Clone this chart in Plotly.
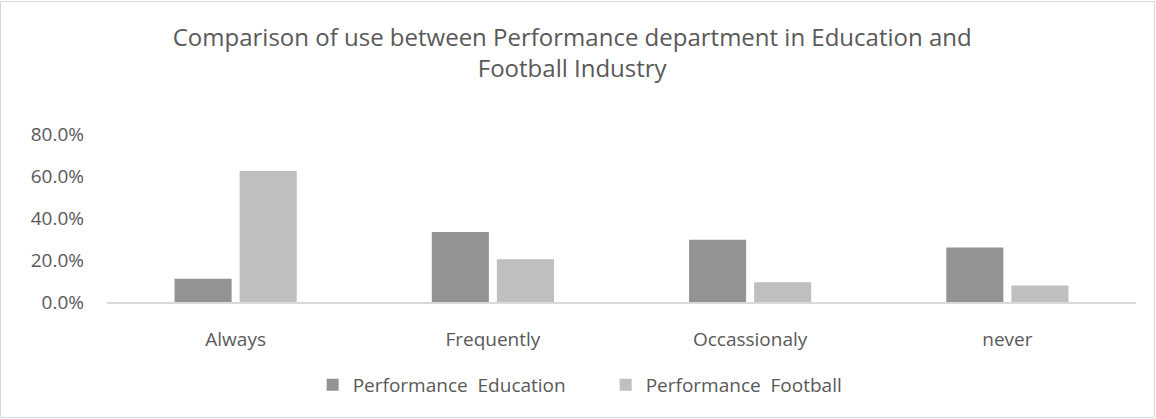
import plotly.graph_objects as go

categories = ["Always", "Frequently", "Occassionaly", "never"]
education = [0.111, 0.333, 0.297, 0.259]
football = [0.624, 0.203, 0.094, 0.079]
series_names = ["Performance\u00a0 Education", "Performance\u00a0 Football"]
y_ticks = [0.0, 0.2, 0.4, 0.6, 0.8]

W, H = 1156, 419
ml, mr, mt, mb = 107, 20, 134, 117
pw, ph = W - ml - mr, H - mt - mb

font_family = "Open Sans, Liberation Sans, sans-serif"
txt = "#595959"

fig = go.Figure()
fig.add_trace(go.Bar(x=categories, y=education, name=series_names[0],
                     marker=dict(color="#939393", line=dict(width=0))))
fig.add_trace(go.Bar(x=categories, y=football, name=series_names[1],
                     marker=dict(color="#bfbfbf", line=dict(width=0))))

fig.update_layout(
    width=W, height=H,
    margin=dict(l=ml, r=mr, t=mt, b=mb),
    paper_bgcolor="white", plot_bgcolor="white",
    barmode="group", bargap=0.494, bargroupgap=0.123,
    font=dict(family=font_family, color=txt, size=19),
    title=dict(
        text="Comparison of use between Performance department in Education and<br>Football Industry",
        x=0.495, xanchor="center", y=1 - 46 / H, yanchor="middle",
        font=dict(size=24, color=txt, family=font_family),
    ),
    xaxis=dict(showgrid=False, showline=True, linecolor="#d9d9d9", linewidth=2,
               ticks="", tickfont=dict(size=19, color=txt), ticklabelstandoff=19,
               fixedrange=True),
    yaxis=dict(range=[0, 0.8], tickvals=y_ticks, tickformat=".1%",
               showgrid=False, zeroline=False, showline=False, ticks="",
               tickfont=dict(size=19, color=txt), ticklabelstandoff=22),
    legend=dict(orientation="h", x=(325 - ml) / pw - 0.012, xanchor="left",
                y=-(385 - (mt + ph)) / ph, yanchor="middle",
                font=dict(size=19, color=txt), entrywidth=248,
                itemwidth=30, traceorder="normal"),
    showlegend=True,
)

# thin frame around the whole chart area
fig.add_shape(type="rect", xref="paper", yref="paper",
              x0=-(ml - 0.5) / pw, x1=(W - ml - 1.5) / pw,
              y0=-(mb - 1.5) / ph, y1=(mt - 1.5) / ph + 1,
              line=dict(color="#d9d9d9", width=1), fillcolor="rgba(0,0,0,0)",
              layer="below")

fig.write_html("out.html")
